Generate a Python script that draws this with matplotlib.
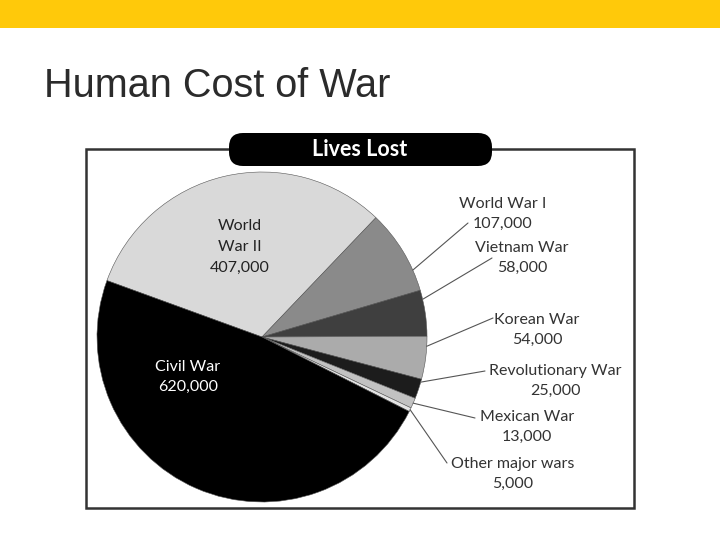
import matplotlib
matplotlib.use('Agg')
import matplotlib.pyplot as plt
from matplotlib.patches import Rectangle, FancyBboxPatch
import numpy as np

# Lives lost per war (clockwise from the top-left of the pie)
wars = ['World War II', 'World War I', 'Vietnam War', 'Korean War',
        'Revolutionary War', 'Mexican War', 'Other major wars', 'Civil War']
deaths = [407000, 107000, 58000, 54000, 25000, 13000, 5000, 620000]

# grey shades of the slices
colors = ['#d9d9d9', '#8a8a8a', '#3f3f3f', '#ababab',
          '#1c1c1c', '#c2c2c2', '#e4e4e4', '#000000']

# outer label layout in pixels: (text x, text y, line end x, line end y,
# where along the slice the leader line touches: 0 = lower edge, 1 = upper)
outer = {
    'World War I': (503, 214, 468, 223, 0.25),
    'Vietnam War': (522, 258, 492, 258, 0.8),
    'Korean War': (537, 330, 493, 318, 0.77),
    'Revolutionary War': (555, 381, 485, 371, 0.85),
    'Mexican War': (527, 427, 475, 418, 0.5),
    'Other major wars': (513, 474, 447, 463, 0.5),
}

W, H = 720, 540
fig = plt.figure(figsize=(7.2, 5.4), dpi=100)

# pixel-coordinate overlay for the slide decorations
bg = fig.add_axes([0, 0, 1, 1])
bg.set_xlim(0, W)
bg.set_ylim(H, 0)
bg.axis('off')

bg.add_patch(Rectangle((0, 0), W, 28, color='#ffc90a', lw=0))
bg.text(44, 97, 'Human Cost of War', fontsize=28.5, family='Liberation Sans',
        color='#2b2b2b', ha='left', va='baseline')

# chart frame and header pill
bg.add_patch(Rectangle((86, 149), 548, 359, fill=False, ec='#333333', lw=1.8))
bg.add_patch(FancyBboxPatch((229, 133), 263, 33,
                            boxstyle='round,pad=0,rounding_size=14',
                            fc='black', ec='none', zorder=3))
bg.text(360, 149, 'Lives Lost', color='white', fontsize=15.5, fontweight='bold',
        family='Lato', ha='center', va='center', zorder=4)

# the pie itself
cx, cy, r = 262, 337, 165
pie_ax = fig.add_axes([(cx - r) / W, 1 - (cy + r) / H, 2 * r / W, 2 * r / H])
wedges, _ = pie_ax.pie(deaths, colors=colors, startangle=160, counterclock=False,
                       radius=1, wedgeprops=dict(ec='#555555', lw=0.4))
pie_ax.set_xlim(-1, 1)
pie_ax.set_ylim(-1, 1)
pie_ax.axis('off')

lab_font = dict(family='Lato', fontsize=11.5, ha='center', va='center',
                linespacing=1.6)

for name, val, w in zip(wars, deaths, wedges):
    text = f'{name}\n{val:,}'
    if name in outer:
        tx, ty, lx, ly, frac = outer[name]
        ang = np.deg2rad(w.theta1 + frac * (w.theta2 - w.theta1))
        pie_ax.annotate('', xy=(np.cos(ang), np.sin(ang)), xytext=(lx, ly),
                        textcoords=bg.transData,
                        arrowprops=dict(arrowstyle='-', color='#555555', lw=0.8,
                                        shrinkA=0, shrinkB=0))
        bg.text(tx, ty, text, color='#333333', **lab_font)

# labels inside the two big slices, drawn on the pie axes so they sit on top
pie_ax.text(240, 247, 'World\nWar II\n407,000', color='#222222',
            transform=bg.transData, **lab_font)
pie_ax.text(188, 377, 'Civil War\n620,000', color='white',
            transform=bg.transData, **lab_font)

fig.savefig('out.png', dpi=100)
